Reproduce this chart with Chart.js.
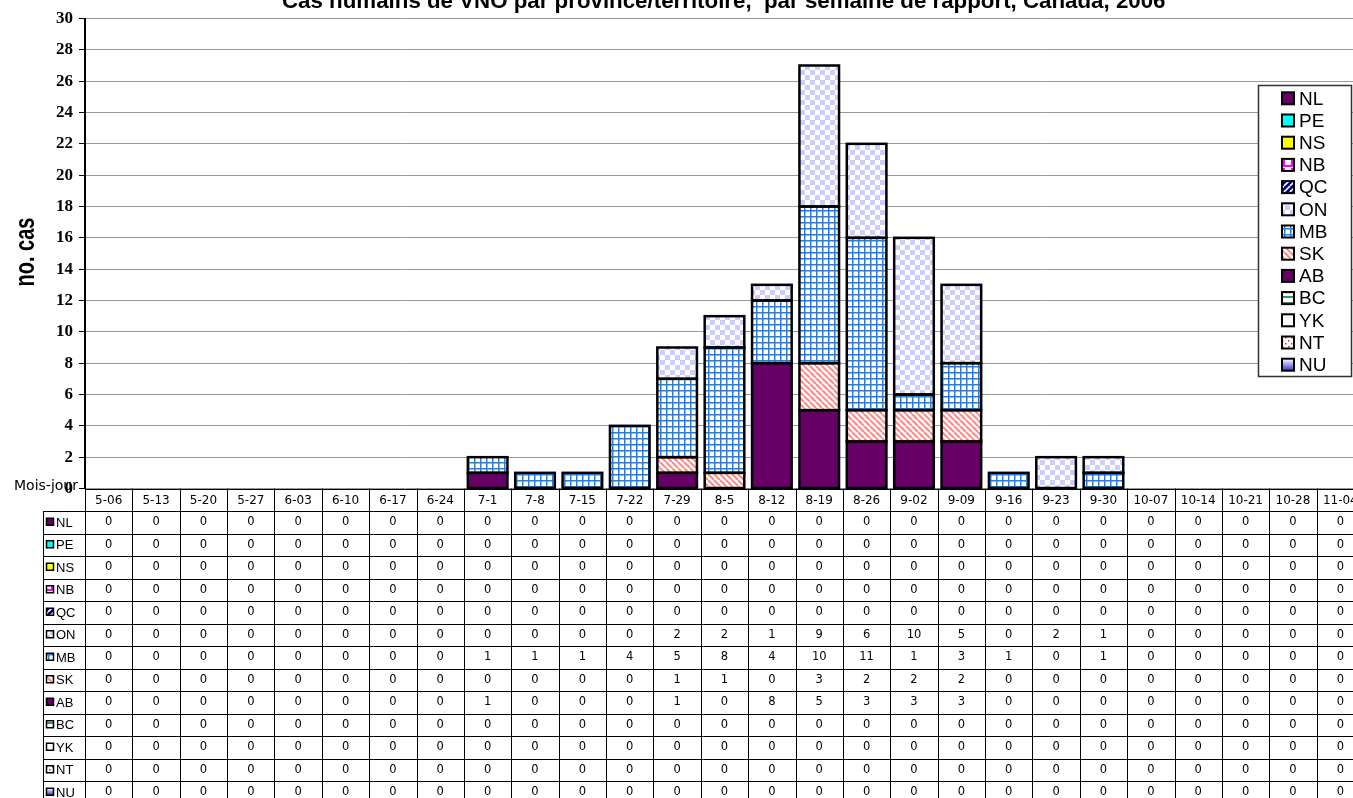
<!DOCTYPE html>
<html><head><meta charset="utf-8">
<script src="https://cdn.jsdelivr.net/npm/chart.js@4.4.1/dist/chart.umd.min.js"></script>
<style>html,body{margin:0;padding:0;overflow:hidden;background:#fff;width:1353px;height:798px}
canvas{display:block}</style></head>
<body><canvas id="c" width="1366" height="798" style="width:1366px;height:798px"></canvas>
<script>
// ---------- DATA ----------
const categories = ['5-06','5-13','5-20','5-27','6-03','6-10','6-17','6-24','7-1','7-8','7-15','7-22','7-29','8-5','8-12','8-19','8-26','9-02','9-09','9-16','9-23','9-30','10-07','10-14','10-21','10-28','11-04'];
const NL = [0,0,0,0,0,0,0,0,0,0,0,0,0,0,0,0,0,0,0,0,0,0,0,0,0,0,0];
const PE = [0,0,0,0,0,0,0,0,0,0,0,0,0,0,0,0,0,0,0,0,0,0,0,0,0,0,0];
const NS = [0,0,0,0,0,0,0,0,0,0,0,0,0,0,0,0,0,0,0,0,0,0,0,0,0,0,0];
const NB = [0,0,0,0,0,0,0,0,0,0,0,0,0,0,0,0,0,0,0,0,0,0,0,0,0,0,0];
const QC = [0,0,0,0,0,0,0,0,0,0,0,0,0,0,0,0,0,0,0,0,0,0,0,0,0,0,0];
const ON = [0,0,0,0,0,0,0,0,0,0,0,0,2,2,1,9,6,10,5,0,2,1,0,0,0,0,0];
const MB = [0,0,0,0,0,0,0,0,1,1,1,4,5,8,4,10,11,1,3,1,0,1,0,0,0,0,0];
const SK = [0,0,0,0,0,0,0,0,0,0,0,0,1,1,0,3,2,2,2,0,0,0,0,0,0,0,0];
const AB = [0,0,0,0,0,0,0,0,1,0,0,0,1,0,8,5,3,3,3,0,0,0,0,0,0,0,0];
const BC = [0,0,0,0,0,0,0,0,0,0,0,0,0,0,0,0,0,0,0,0,0,0,0,0,0,0,0];
const YK = [0,0,0,0,0,0,0,0,0,0,0,0,0,0,0,0,0,0,0,0,0,0,0,0,0,0,0];
const NT = [0,0,0,0,0,0,0,0,0,0,0,0,0,0,0,0,0,0,0,0,0,0,0,0,0,0,0];
const NU = [0,0,0,0,0,0,0,0,0,0,0,0,0,0,0,0,0,0,0,0,0,0,0,0,0,0,0];
const provinces = ['NL','PE','NS','NB','QC','ON','MB','SK','AB','BC','YK','NT','NU'];
const stackOrder = ['NU','NT','YK','BC','AB','SK','MB','ON','QC','NB','NS','PE','NL'];
const seriesValues = {NL,PE,NS,NB,QC,ON,MB,SK,AB,BC,YK,NT,NU};
const titleText = 'Cas humains de VNO par province/territoire,  par semaine de rapport, Canada, 2006';
const yTitleText = 'no. cas';
const cornerText = 'Mois-jour';
const yMin = 0, yMax = 30, yStep = 2;

// ---------- FILLS ----------
const canvas = document.getElementById('c');
const ctx0 = canvas.getContext('2d');
function tile(size, draw){const c=document.createElement('canvas');c.width=c.height=size;const g=c.getContext('2d');draw(g,size);return ctx0.createPattern(c,'repeat');}
const fills = {
  NL:'#660066', PE:'#00FFFF', NS:'#FFFF00', AB:'#660066', YK:'#FFFFFF',
  NB: tile(8,(g,s)=>{g.fillStyle='#fff';g.fillRect(0,0,s,s);g.fillStyle='#FF00FF';g.fillRect(0,5,s,2);g.fillRect(3,0,2,5);}),
  QC: tile(6,(g,s)=>{g.fillStyle='#000080';g.fillRect(0,0,s,s);g.strokeStyle='#fff';g.lineWidth=1.6;for(const o of [-s,0,s]){g.beginPath();g.moveTo(o,s);g.lineTo(o+s,0);g.stroke();}}),
  ON: tile(10,(g,s)=>{g.fillStyle='#fff';g.fillRect(0,0,s,s);g.fillStyle='#CCCCFF';g.fillRect(0,0,5,5);g.fillRect(5,5,5,5);}),
  MB: tile(6,(g,s)=>{g.fillStyle='#fff';g.fillRect(0,0,s,s);g.fillStyle='#1F7FE6';g.fillRect(0,0,s,1.5);g.fillRect(0,0,1.5,s);}),
  SK: tile(6,(g,s)=>{g.fillStyle='#fff';g.fillRect(0,0,s,s);g.strokeStyle='#FF8888';g.lineWidth=2;for(const o of [-s,0,s]){g.beginPath();g.moveTo(o,0);g.lineTo(o+s,s);g.stroke();}}),
  BC: tile(6,(g,s)=>{g.fillStyle='#fff';g.fillRect(0,0,s,s);g.fillStyle='#339966';g.fillRect(0,2,s,2);}),
  NT: tile(6,(g,s)=>{g.fillStyle='#fff';g.fillRect(0,0,s,s);g.fillStyle='#CC3333';g.fillRect(1,1,1.5,1.5);g.fillRect(4,4,1.5,1.5);}),
  NU: '#9999FF'
};
function swatchFill(ctx,p,x,y,s){
  if(p==='NU'){const gr=ctx.createLinearGradient(x,y,x,y+s);gr.addColorStop(0,'#FFFFFF');gr.addColorStop(1,'#3333CC');return gr;}
  return fills[p];
}
function drawSwatch(ctx,p,x,y,s,bw){
  ctx.fillStyle=swatchFill(ctx,p,x,y,s);ctx.fillRect(x,y,s,s);
  ctx.lineWidth=bw;ctx.strokeStyle='#000';ctx.strokeRect(x,y,s,s);
}

// ---------- CUSTOM DRAWING ----------
const barOutlines = {
  id:'barOutlines',
  afterDatasetsDraw(chart){
    const ctx=chart.ctx;ctx.save();ctx.strokeStyle='#000';ctx.lineWidth=2.5;ctx.lineJoin='miter';
    chart.data.datasets.forEach((ds,di)=>{
      chart.getDatasetMeta(di).data.forEach((el,j)=>{
        if(!ds.data[j]) return;
        const {x,y,base,width}=el.getProps(['x','y','base','width'],true);
        ctx.strokeRect(x-width/2,Math.min(y,base),width,Math.abs(base-y));
      });
    });
    ctx.restore();
  }
};
const extras = {
  id:'extras',
  afterDraw(chart){
    const ctx=chart.ctx, a=chart.chartArea, xs=chart.scales.x;
    ctx.save();
    // title
    ctx.fillStyle='#000';ctx.font='bold 22.3px "Liberation Sans", Arial, sans-serif';
    ctx.textAlign='left';ctx.textBaseline='alphabetic';
    ctx.fillText(titleText,282,8);
    // y title
    ctx.save();ctx.translate(27,252);ctx.rotate(-Math.PI/2);ctx.scale(1,1.35);
    ctx.font='bold 20px "Liberation Sans", Arial, sans-serif';ctx.textAlign='center';ctx.textBaseline='middle';
    ctx.fillText(yTitleText,0,0);ctx.restore();
    // table
    const n=categories.length, colW=(a.right-a.left)/n, rowH=22.5, top=a.bottom;
    ctx.strokeStyle='#000';ctx.lineWidth=1;
    for(let k=0;k<=provinces.length+1;k++){
      const y=Math.round(top+k*rowH)+0.5;
      ctx.beginPath();ctx.moveTo(k===0?a.left:43,y);ctx.lineTo(a.right,y);ctx.stroke();
    }
    for(let j=0;j<=n;j++){
      const x=Math.round(a.left+j*colW)+0.5;
      ctx.beginPath();ctx.moveTo(x,top);ctx.lineTo(x,800);ctx.stroke();
    }
    ctx.beginPath();ctx.moveTo(43.5,top+rowH);ctx.lineTo(43.5,800);ctx.stroke();
    ctx.textAlign='center';ctx.textBaseline='middle';ctx.fillStyle='#000';
    ctx.font='12px "DejaVu Sans", Verdana, sans-serif';
    categories.forEach((c,i)=>{ctx.fillText(c,xs.getPixelForValue(i),top+rowH/2+1);});
    provinces.forEach((p,r)=>{
      const cy=top+rowH*(r+1)+rowH/2;
      drawSwatch(ctx,p,46.5,cy-4,7,1.5);
      ctx.fillStyle='#000';ctx.textAlign='left';ctx.font='13px "Liberation Sans", Arial, sans-serif';
      ctx.fillText(p,56,cy+1);
      ctx.textAlign='center';ctx.font='11.5px "DejaVu Sans", Verdana, sans-serif';
      seriesValues[p].forEach((v,i)=>{ctx.fillText(String(v),xs.getPixelForValue(i),cy);});
    });
    // corner label
    ctx.textAlign='left';ctx.textBaseline='alphabetic';ctx.font='14px "DejaVu Sans", Verdana, sans-serif';
    ctx.fillText(cornerText,14,490);
    // legend
    ctx.fillStyle='#fff';ctx.fillRect(1258,85,94,292);
    ctx.strokeStyle='#333';ctx.lineWidth=1.5;ctx.strokeRect(1258.5,85.5,93,291);
    provinces.forEach((p,i)=>{
      const cy=98.3+22.2*i;
      drawSwatch(ctx,p,1282,cy-6,12,2);
      ctx.fillStyle='#000';ctx.font='19px "Liberation Sans", Arial, sans-serif';ctx.textBaseline='middle';
      ctx.fillText(p,1299,cy+1);
    });
    ctx.restore();
  }
};

new Chart(canvas,{
  type:'bar',
  data:{labels:categories,datasets:stackOrder.map(p=>({
    label:p,data:seriesValues[p],backgroundColor:fills[p],
    borderWidth:0,barPercentage:0.836,categoryPercentage:1
  }))},
  options:{
    responsive:false,animation:false,devicePixelRatio:1,
    layout:{padding:{top:18.5,bottom:309.5,left:0,right:2}},
    plugins:{legend:{display:false},tooltip:{enabled:false},title:{display:false}},
    scales:{
      x:{stacked:true,display:false,offset:true},
      y:{stacked:true,min:yMin,max:yMax,
         ticks:{stepSize:yStep,color:'#000',padding:6,font:{family:'"Liberation Serif", "Times New Roman", serif',size:17,weight:'bold'}},
         grid:{color:'#999',lineWidth:1,tickColor:'#000',tickLength:6},
         border:{color:'#000',width:2},
         afterFit(s){s.width=85;}
      }
    }
  },
  plugins:[barOutlines,extras]
});
</script></body></html>
